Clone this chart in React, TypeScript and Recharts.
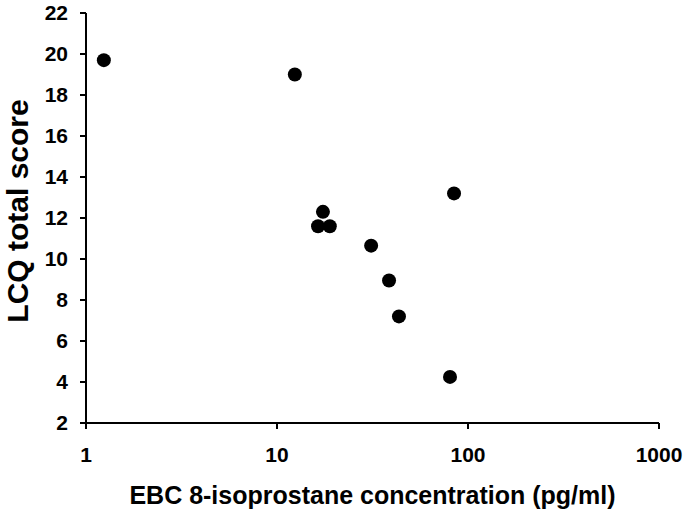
import React from 'react'
import { ScatterChart, Scatter, XAxis, YAxis } from 'recharts'

// EBC 8-isoprostane (pg/ml) vs LCQ total score
const isoprostane = [1.24, 12.4, 17.4, 16.4, 18.9, 31.1, 38.6, 43.5, 80.5, 84.5]
const lcqScore = [19.7, 19.0, 12.3, 11.6, 11.6, 10.65, 8.95, 7.2, 4.25, 13.2]
const xTicks = [1, 10, 100, 1000]
const yTicks = [2, 4, 6, 8, 10, 12, 14, 16, 18, 20, 22]

const points = isoprostane.map((x, i) => ({ x, y: lcqScore[i] }))

const font = "Arial, 'Liberation Sans', sans-serif"

const Dot = (props: any) => <circle cx={props.cx} cy={props.cy} r={7} fill="#000" />

const YTitle = (props: any) => {
  const vb = props.viewBox || {}
  const cx = 28
  const cy = vb.y + vb.height / 2 - 7
  return (
    <text x={cx} y={cy} transform={`rotate(-90, ${cx}, ${cy})`} textAnchor="middle"
      fontFamily={font} fontWeight="bold" fontSize={30} fill="#000">
      LCQ total score
    </text>
  )
}

const XTitle = (props: any) => {
  const vb = props.viewBox || {}
  return (
    <text x={vb.x + vb.width / 2} y={504} textAnchor="middle" fontFamily={font} fontWeight="bold" fontSize={25} fill="#000">
      EBC 8-isoprostane concentration (pg/ml)
    </text>
  )
}

export default function App() {
  const tickStyle = { fontFamily: font, fontWeight: 'bold', fontSize: 21, fill: '#000' }
  return (
    <div style={{ position: 'fixed', left: 0, top: 0, background: '#fff' }}>
      <ScatterChart width={685} height={517} margin={{ top: 13, right: 26, bottom: 0, left: 0 }}>
        <XAxis
          type="number"
          dataKey="x"
          scale="log"
          domain={[1, 1000]}
          ticks={xTicks}
          allowDataOverflow
          height={94}
          stroke="#000"
          strokeWidth={2}
          tickSize={6}
          tickMargin={18}
          tick={tickStyle}
          label={<XTitle />}
        />
        <YAxis
          type="number"
          dataKey="y"
          domain={[2, 22]}
          ticks={yTicks}
          interval={0}
          width={86}
          stroke="#000"
          strokeWidth={2}
          tickSize={6}
          tickMargin={12}
          tick={tickStyle}
          label={<YTitle />}
        />
        <Scatter data={points} fill="#000" shape={<Dot />} isAnimationActive={false} />
      </ScatterChart>
    </div>
  )
}
